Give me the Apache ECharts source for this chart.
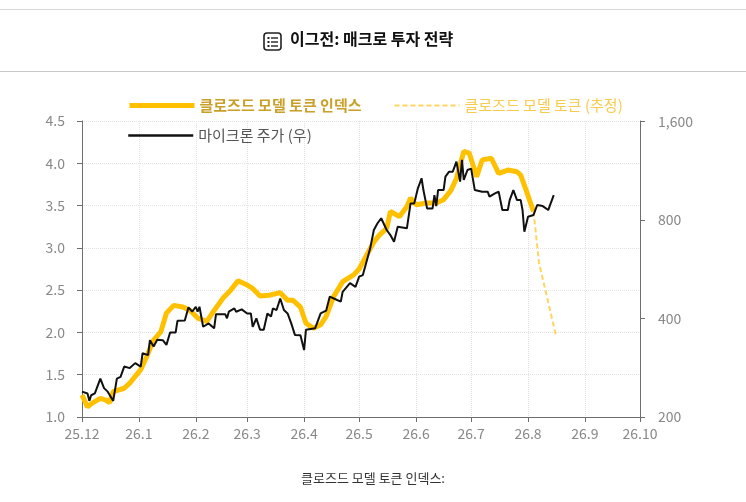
<!DOCTYPE html>
<html>
<head>
<meta charset="utf-8">
<script src="https://cdn.jsdelivr.net/npm/echarts@6/dist/echarts.min.js"></script>
<style>
html,body{margin:0;padding:0;background:#fff;}
#chartmain{width:746px;height:502px;}
</style>
</head>
<body>
<div id="chartmain"></div>
<script>
// 클로즈드 모델 토큰 인덱스 (좌축)
var indexDates = ['2025-12-01','2025-12-04','2025-12-07','2025-12-11','2025-12-14','2025-12-16','2025-12-18','2025-12-24','2025-12-27',
    '2026-01-02','2026-01-05','2026-01-09','2026-01-13','2026-01-16','2026-01-20','2026-01-25','2026-01-29',
    '2026-02-02','2026-02-07','2026-02-11','2026-02-16','2026-02-20','2026-02-24',
    '2026-03-01','2026-03-04','2026-03-08','2026-03-13','2026-03-19','2026-03-23','2026-03-26','2026-03-30',
    '2026-04-02','2026-04-06','2026-04-10','2026-04-13','2026-04-17','2026-04-22','2026-04-28',
    '2026-05-01','2026-05-05','2026-05-09','2026-05-12','2026-05-16','2026-05-18','2026-05-23','2026-05-27','2026-05-29',
    '2026-06-01','2026-06-07','2026-06-12','2026-06-16','2026-06-20','2026-06-23','2026-06-27','2026-06-30',
    '2026-07-04','2026-07-07','2026-07-12','2026-07-16','2026-07-21','2026-07-26','2026-07-28','2026-07-31',
    '2026-08-03','2026-08-04'];
var indexValues = [1.26,1.12,1.17,1.22,1.20,1.17,1.30,1.34,1.40,
    1.56,1.70,1.91,2.01,2.23,2.32,2.30,2.26,
    2.17,2.13,2.26,2.41,2.50,2.61,
    2.56,2.52,2.43,2.44,2.47,2.38,2.38,2.30,
    2.11,2.05,2.09,2.19,2.42,2.60,2.68,
    2.75,2.91,3.07,3.15,3.23,3.43,3.37,3.49,3.59,
    3.51,3.53,3.53,3.57,3.68,3.82,4.14,4.12,
    3.84,4.04,4.06,3.88,3.92,3.90,3.86,3.68,
    3.49,3.43];

// 추정 구간
var estDates = ['2026-08-04','2026-08-07','2026-08-11','2026-08-16'];
var estValues = [3.43,2.82,2.45,1.98];

// 마이크론 주가 (우축, 로그)
var muDates = ['2025-12-01','2025-12-04','2025-12-05','2025-12-06','2025-12-08','2025-12-11','2025-12-13','2025-12-15','2025-12-18','2025-12-20','2025-12-22','2025-12-24','2025-12-27','2025-12-30',
    '2026-01-02','2026-01-03','2026-01-06','2026-01-07','2026-01-09','2026-01-11','2026-01-14','2026-01-16','2026-01-18','2026-01-21','2026-01-22','2026-01-26','2026-01-28','2026-01-30',
    '2026-02-01','2026-02-02','2026-02-03','2026-02-05','2026-02-08','2026-02-11','2026-02-12','2026-02-17','2026-02-18','2026-02-19','2026-02-22','2026-02-23','2026-02-26',
    '2026-03-01','2026-03-03','2026-03-04','2026-03-06','2026-03-08','2026-03-10','2026-03-12','2026-03-14','2026-03-15','2026-03-17','2026-03-19','2026-03-21','2026-03-23','2026-03-25','2026-03-27','2026-03-30',
    '2026-04-01','2026-04-02','2026-04-07','2026-04-10','2026-04-13','2026-04-15','2026-04-19','2026-04-21','2026-04-22','2026-04-26','2026-04-29',
    '2026-05-01','2026-05-03','2026-05-05','2026-05-07','2026-05-09','2026-05-11','2026-05-13','2026-05-16','2026-05-18','2026-05-20','2026-05-22','2026-05-23','2026-05-27','2026-05-29','2026-05-31',
    '2026-06-02','2026-06-04','2026-06-05','2026-06-07','2026-06-10','2026-06-11','2026-06-12','2026-06-13','2026-06-16','2026-06-17','2026-06-19','2026-06-21','2026-06-23','2026-06-25','2026-06-26','2026-06-27','2026-06-29',
    '2026-07-01','2026-07-03','2026-07-07','2026-07-10','2026-07-11','2026-07-14','2026-07-16','2026-07-18','2026-07-21','2026-07-22','2026-07-24','2026-07-26','2026-07-28','2026-07-29','2026-07-30',
    '2026-08-01','2026-08-02','2026-08-04','2026-08-06','2026-08-09','2026-08-12','2026-08-15'];
var muPrices = [239,236,224,233,236,262,245,239,224,262,265,285,282,292,
    285,313,309,343,328,344,343,332,362,362,393,394,432,419,
    434,419,434,377,386,373,412,412,400,419,429,419,426,
    414,414,377,400,369,369,414,405,429,424,460,424,414,386,356,355,
    320,369,373,414,422,466,455,450,482,512,499,
    536,542,595,654,744,780,808,744,718,685,761,753,753,897,897,
    997,1070,985,866,866,951,880,985,985,1082,1121,1121,1202,1045,1217,1057,1134,
    1145,985,974,974,940,962,974,856,856,918,985,918,918,856,735,
    817,817,827,887,880,856,951];

var legendNames = ['클로즈드 모델 토큰 인덱스', '클로즈드 모델 토큰 (추정)', '마이크론 주가 (우)'];
var leftTicks = [1.0, 4.5, 0.5];      // min, max, interval
var rightTicks = [200, 1600];         // log2 축 범위

// x축 카테고리: 일별 날짜 25.12.1 ~ 26.10.1
var dayCats = [];
for (var t = Date.UTC(2025, 11, 1); t <= Date.UTC(2026, 9, 1); t += 86400000) {
    dayCats.push(new Date(t).toISOString().slice(0, 10));
}

function pairs(dates, vals) {
    var out = [];
    for (var i = 0; i < dates.length; i++) {
        out.push([dates[i], vals[i]]);
    }
    return out;
}

function isMonthStart(idx, val) {
    return val.slice(8) === '01';
}

var FONT = "'Noto Sans CJK KR', sans-serif";
var NUMFONT = "'Liberation Sans Narrow', 'Noto Sans CJK KR', sans-serif";
var noSymbol = { color: 'rgba(0,0,0,0)', borderWidth: 0, opacity: 0 };

var option = {
    animation: false,
    textStyle: { fontFamily: FONT },
    grid: { left: 82, right: 106, top: 121, bottom: 85 },
    legend: [
        {
            left: 122, top: 93,
            itemWidth: 65, itemHeight: 14, itemGap: 32,
            itemStyle: noSymbol,
            data: [
                { name: legendNames[0], lineStyle: { width: 5 }, textStyle: { color: '#C9A02A', fontWeight: 'bold' } },
                { name: legendNames[1], lineStyle: { width: 2 }, textStyle: { color: '#F7CB4D' } }
            ],
            textStyle: { fontSize: 15, fontFamily: FONT }
        },
        {
            left: 122, top: 123,
            itemWidth: 65, itemHeight: 14,
            itemStyle: noSymbol,
            data: [{ name: legendNames[2], lineStyle: { width: 2.5 }, textStyle: { color: '#555' } }],
            textStyle: { fontSize: 15, fontFamily: FONT }
        }
    ],
    xAxis: {
        type: 'category',
        boundaryGap: false,
        data: dayCats,
        axisLine: { lineStyle: { color: '#6e6e6e', width: 1 } },
        axisTick: { show: true, interval: isMonthStart, length: 5, lineStyle: { color: '#6e6e6e' } },
        axisLabel: {
            interval: isMonthStart,
            color: '#888',
            fontSize: 14,
            fontFamily: NUMFONT,
            margin: 10,
            formatter: function (v) {
                var p = v.split('-');
                return p[0].slice(2) + '.' + parseInt(p[1], 10);
            }
        },
        splitLine: { show: true, interval: isMonthStart, lineStyle: { color: '#e3e3e3', type: 'dotted' } }
    },
    yAxis: [
        {
            type: 'value',
            min: leftTicks[0],
            max: leftTicks[1],
            interval: leftTicks[2],
            axisLine: { show: true, lineStyle: { color: '#6e6e6e', width: 1 } },
            axisTick: { show: true, length: 5, lineStyle: { color: '#6e6e6e' } },
            axisLabel: {
                color: '#888', fontSize: 14, fontFamily: NUMFONT, margin: 17,
                formatter: function (v) { return v.toFixed(1); }
            },
            splitLine: { lineStyle: { color: '#e3e3e3', type: 'dotted' } }
        },
        {
            type: 'log',
            logBase: 2,
            min: rightTicks[0],
            max: rightTicks[1],
            interval: 1,
            position: 'right',
            axisLine: { show: true, lineStyle: { color: '#6e6e6e', width: 1 } },
            axisTick: { show: true, length: 5, lineStyle: { color: '#6e6e6e' } },
            axisLabel: {
                color: '#888', fontSize: 14, fontFamily: NUMFONT, margin: 18,
                formatter: function (v) { return (Math.round(v / 100) * 100).toLocaleString('en-US'); }
            },
            splitLine: { show: false }
        }
    ],
    series: [
        {
            name: legendNames[0],
            type: 'line',
            yAxisIndex: 0,
            symbol: 'none',
            data: pairs(indexDates, indexValues),
            lineStyle: { color: '#FFC000', width: 5 },
            itemStyle: { color: '#FFC000' }
        },
        {
            name: legendNames[1],
            type: 'line',
            yAxisIndex: 0,
            symbol: 'none',
            data: pairs(estDates, estValues),
            lineStyle: { color: '#FFD55C', width: 2, type: [5, 3] },
            itemStyle: { color: '#FFD55C' }
        },
        {
            name: legendNames[2],
            type: 'line',
            yAxisIndex: 1,
            symbol: 'none',
            data: pairs(muDates, muPrices),
            lineStyle: { color: '#111', width: 2 },
            itemStyle: { color: '#111' }
        }
    ],
    graphic: [
        // 상단 구분선
        { type: 'line', shape: { x1: 0, y1: 9.5, x2: 746, y2: 9.5 }, style: { stroke: '#d6d6d6', lineWidth: 1 } },
        { type: 'line', shape: { x1: 0, y1: 71.5, x2: 746, y2: 71.5 }, style: { stroke: '#c8c8c8', lineWidth: 1 } },
        // 목록 아이콘
        { type: 'rect', shape: { x: 264, y: 33, width: 17, height: 17, r: 3 }, style: { fill: 'none', stroke: '#222', lineWidth: 1.6 } },
        { type: 'rect', shape: { x: 267.5, y: 37, width: 2, height: 2 }, style: { fill: '#222' } },
        { type: 'rect', shape: { x: 267.5, y: 41, width: 2, height: 2 }, style: { fill: '#222' } },
        { type: 'rect', shape: { x: 267.5, y: 45, width: 2, height: 2 }, style: { fill: '#222' } },
        { type: 'line', shape: { x1: 271, y1: 38, x2: 278, y2: 38 }, style: { stroke: '#222', lineWidth: 1.4 } },
        { type: 'line', shape: { x1: 271, y1: 42, x2: 278, y2: 42 }, style: { stroke: '#222', lineWidth: 1.4 } },
        { type: 'line', shape: { x1: 271, y1: 46, x2: 278, y2: 46 }, style: { stroke: '#222', lineWidth: 1.4 } },
        {
            type: 'text', left: 290, top: 31,
            style: { text: '이그전: 매크로 투자 전략', fill: '#111', font: "bold 16px 'Noto Sans CJK KR'" }
        },
        {
            type: 'text', left: 'center', top: 472,
            style: { text: '클로즈드 모델 토큰 인덱스:', fill: '#333', font: "13px 'Noto Sans CJK KR'" }
        }
    ]
};

var myChart = echarts.init(document.getElementById('chartmain'));
myChart.setOption(option);
</script>
</body>
</html>
